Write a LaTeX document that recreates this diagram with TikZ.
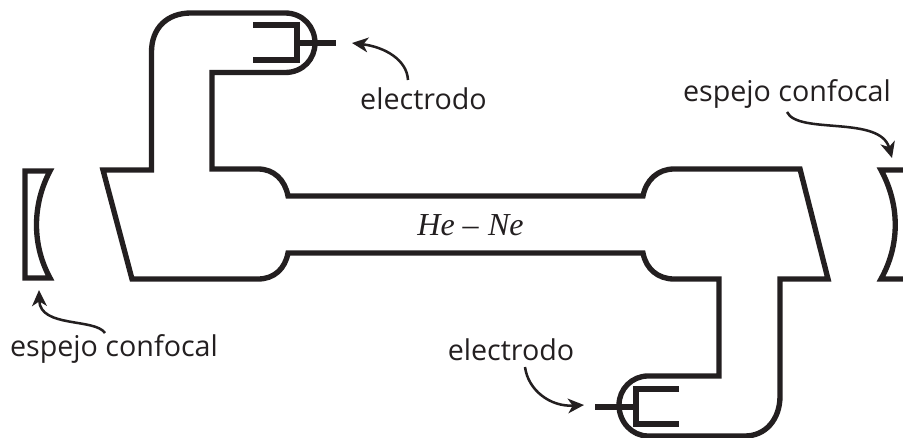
\documentclass[tikz,border=0pt]{standalone}
\usepackage{fontspec}
\setmainfont{Open Sans}
\newfontfamily\serifit{Liberation Serif}
\usetikzlibrary{arrows.meta}
\definecolor{ink}{RGB}{35,31,32}
\tikzset{
  tube/.style={draw=ink,line width=4pt,miter limit=10},
  stem/.style={draw=ink,line width=4.6pt},
  mirror/.style={draw=ink,line width=4pt,miter limit=10},
  lead/.style={draw=ink,line width=1.9pt,-{Stealth[length=12pt,width=11pt,inset=3.5pt]}},
  lab/.style={text=ink,font=\fontsize{21.5pt}{24pt}\selectfont,inner sep=0pt,anchor=base},
}
\begin{document}
\begin{tikzpicture}[x=0.75pt,y=-0.75pt]
\useasboundingbox (0,0) rectangle (903,438);
% tube
\path[tube] (103,170) -- (151.5,170) -- (151.5,52)
  .. controls (151.5,28) and (167,13) .. (191,13)
  -- (285,13) .. controls (303,13) and (315,27) .. (315,43)
  .. controls (315,59) and (303,72.5) .. (285,72.5)
  -- (212,72.5) -- (212,169) -- (258,169)
  .. controls (274,169) and (285,180) .. (288,196)
  -- (643,196) .. controls (646,180) and (658,169) .. (674,169)
  -- (800,169) -- (828,279) -- (780,279) -- (780,396)
  .. controls (780,420) and (765,436) .. (745,436)
  -- (648,436) .. controls (632,436) and (619,422) .. (619,405)
  .. controls (619,389) and (632,376) .. (648,376)
  -- (719,376) -- (719,279) -- (674,279)
  .. controls (658,279) and (646,269) .. (643,253)
  -- (288,253) .. controls (285,269) and (274,279) .. (258,279)
  -- (132,279) -- cycle;
% electrodes
\path[tube] (253,25) -- (297,25) -- (297,60) -- (253,60);
\path[stem] (297,43) -- (336,43);
\path[tube] (679,389) -- (636,389) -- (636,424) -- (679,424);
\path[stem] (595,407) -- (636,407);
% mirrors
\path[mirror] (50,171) -- (25,171) -- (25,278) -- (50,278)
  .. controls (32,245) and (32,205) .. (50,171) -- cycle;
\path[mirror] (905,170) -- (881,170) .. controls (900,205) and (900,245) .. (881,279) -- (905,279);
% labels
\node[lab] (e1) at (423.5,110) {electrodo};
\node[lab] (e2) at (511,360) {electrodo};
\node[lab] (m1) at (114,356) {espejo confocal};
\node[lab] (m2) at (787,102) {espejo confocal};
\node[text=ink,inner sep=0pt,anchor=base,font=\serifit\itshape\fontsize{24pt}{28pt}\selectfont] (gas) at (470.5,236) {He\hspace{6pt}–\hspace{7pt}Ne};
% leaders
\coordinate (t1) at (352,43);
\coordinate (s1) at (408,80);
\coordinate (t2) at (584,405);
\coordinate (s2) at (525,367);
\coordinate (t3) at (39,290);
\coordinate (s3) at (105,333);
\coordinate (t4) at (892,158);
\coordinate (s4) at (787,112);
\draw[lead] (s1) .. controls (407,60) and (385,47) .. (t1);
\draw[lead] (s2) .. controls (528,390) and (550,407) .. (t2);
\draw[lead] (s3) .. controls (95,318) and (40,328) .. (t3);
\draw[lead] (s4) .. controls (798,135) and (880,115) .. (t4);
\end{tikzpicture}
\end{document}
